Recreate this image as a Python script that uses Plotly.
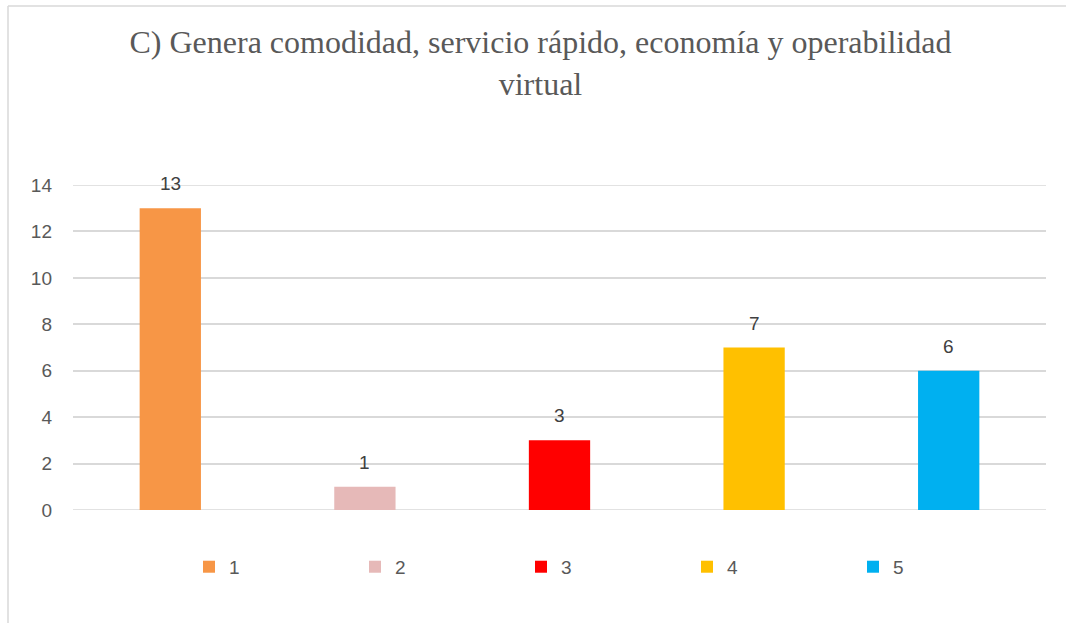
import plotly.graph_objects as go

categories = ["1", "2", "3", "4", "5"]
values = [13, 1, 3, 7, 6]
colors = ["#F79646", "#E6B9B8", "#FF0000", "#FFC000", "#00B0F0"]
title_text = "C) Genera comodidad, servicio rápido, economía y operabilidad<br>virtual"
y_max = 14

W, H = 1066, 623
ML, MR, MT, MB = 73, 20, 185, 113

fig = go.Figure()
for i, (cat, val, col) in enumerate(zip(categories, values, colors)):
    fig.add_trace(go.Bar(
        x=[i], y=[val], name=cat,
        marker=dict(color=col, line=dict(width=0)),
        width=0.315,
    ))

annotations = [
    dict(x=i, y=val, xref="x", yref="y", text=str(val), showarrow=False,
         yanchor="bottom", yshift=12,
         font=dict(family="Liberation Sans, Arial", size=19, color="#404040"))
    for i, val in enumerate(values)
]

pw = W - ML - MR
ph = H - MT - MB
def px_to_paper_x(px):
    return (px - ML) / pw
def px_to_paper_y(py):
    return (H - MB - py) / ph

edge_lines = [
    dict(type="line", xref="paper", yref="y", x0=0, x1=1, y0=yv, y1=yv,
         line=dict(color="#D9D9D9", width=1.5), layer="below")
    for yv in (0, y_max)
]

fig.update_layout(
    width=W, height=H,
    margin=dict(l=ML, r=MR, t=MT, b=MB),
    paper_bgcolor="white", plot_bgcolor="white",
    barmode="overlay",
    title=dict(text=title_text, x=0.507, xanchor="center", y=0.915, yanchor="top",
               font=dict(family="Liberation Serif, Times New Roman", size=32, color="#595959")),
    xaxis=dict(range=[-0.5, 4.5], showticklabels=False, showgrid=False, zeroline=False,
               showline=False, fixedrange=True),
    yaxis=dict(range=[0, y_max], dtick=2, tick0=0, showgrid=True, gridcolor="#D9D9D9", gridwidth=1.5,
               zeroline=False, showline=False,
               tickfont=dict(family="Liberation Sans, Arial", size=19, color="#595959"),
               ticklabelstandoff=20),
    showlegend=True,
    legend=dict(orientation="h", x=px_to_paper_x(189), xanchor="left", y=-0.175, yanchor="middle",
                font=dict(family="Liberation Sans, Arial", size=19, color="#595959"),
                entrywidth=121, entrywidthmode="pixels", itemclick=False),
    annotations=annotations,
    shapes=edge_lines + [
        dict(type="line", xref="paper", yref="paper",
             x0=px_to_paper_x(8), x1=px_to_paper_x(8), y0=px_to_paper_y(6), y1=px_to_paper_y(640),
             line=dict(color="#D9D9D9", width=1.5)),
        dict(type="line", xref="paper", yref="paper",
             x0=px_to_paper_x(8), x1=px_to_paper_x(1080), y0=px_to_paper_y(6), y1=px_to_paper_y(6),
             line=dict(color="#D9D9D9", width=1.5)),
    ],
)

fig.write_html("out.html", config={"displayModeBar": False},
               post_script="document.body.style.margin='0';document.body.style.overflow='hidden';")
